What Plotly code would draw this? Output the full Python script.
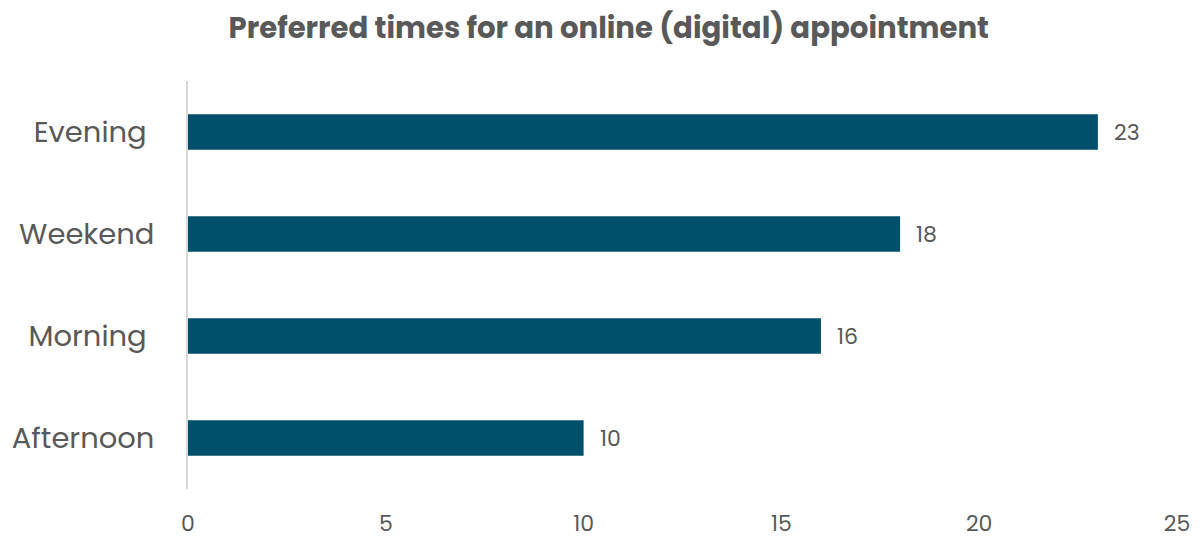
import plotly.graph_objects as go

# Survey answers: preferred slot for an online (digital) appointment
categories = ["Afternoon", "Morning\u00a0", "Weekend", "Evening\u00a0"]
counts = [10, 16, 18, 23]
x_ticks = [0, 5, 10, 15, 20, 25]

BAR = "#00506B"
TEXT = "#595959"
FONT = "Poppins, Lato, 'Open Sans', sans-serif"

fig = go.Figure(
    go.Bar(
        x=counts,
        y=categories,
        orientation="h",
        marker=dict(color=BAR, line=dict(width=0)),
        width=0.35,
        hoverinfo="x+y",
    )
)

# value labels placed just past the end of each bar
for c, v in zip(categories, counts):
    fig.add_annotation(
        x=v, y=c, text=str(v), showarrow=False,
        xanchor="left", yanchor="middle", xshift=14, yshift=0,
        font=dict(family=FONT, size=22, color=TEXT),
    )

fig.update_layout(
    width=1203,
    height=539,
    margin=dict(l=188, r=26, t=81, b=50, autoexpand=False),
    paper_bgcolor="white",
    plot_bgcolor="white",
    showlegend=False,
    title=dict(
        text="<b>Preferred times for an online (digital) appointment</b>",
        x=0.506, xref="container", xanchor="center",
        y=0.948, yref="container", yanchor="middle",
        font=dict(family=FONT, size=29.2, color=TEXT),
    ),
    xaxis=dict(
        range=[0, 25],
        tickvals=x_ticks,
        ticktext=[str(t) for t in x_ticks],
        showgrid=False,
        zeroline=False,
        showline=False,
        ticks="",
        automargin=False,
        ticklabelstandoff=19,
        tickfont=dict(family=FONT, size=22, color=TEXT),
        fixedrange=True,
    ),
    yaxis=dict(
        showgrid=False,
        zeroline=False,
        showline=True,
        linecolor="#D9D9D9",
        linewidth=1.5,
        ticks="",
        automargin=False,
        ticklabelstandoff=26,
        tickfont=dict(family=FONT, size=29, color=TEXT),
        fixedrange=True,
    ),
)

fig.write_html("out.html")
